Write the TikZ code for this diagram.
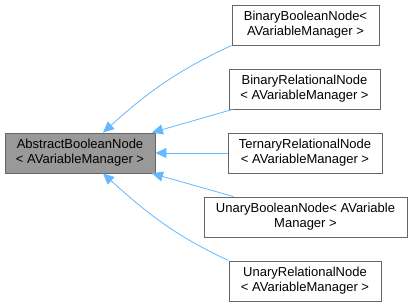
\documentclass[tikz,border=0pt]{standalone}
\usepackage{fontspec}
\setmainfont{Liberation Sans}
\usetikzlibrary{arrows.meta}
\definecolor{edgeblue}{HTML}{63B8FF}
\definecolor{basegray}{HTML}{999999}
\definecolor{framegray}{HTML}{666666}
\tikzset{
  classbox/.style={draw=framegray, fill=white, line width=0.9pt, align=center, minimum height=40pt, inner sep=1pt, font=\fontsize{13}{15}\selectfont},
  basebox/.style={classbox, fill=basegray},
  inherit/.style={draw=edgeblue, line width=0.8pt, -{Triangle[length=11pt, width=10pt, fill=edgeblue]}}
}
\begin{document}
\begin{tikzpicture}[x=1pt, y=1pt]
        \useasboundingbox (0, 0) rectangle (412, -307);

        % Base class
        \node[basebox, minimum width=150pt] (abstract) at (80, -153) {AbstractBooleanNode\\< AVariableManager >};

        % Derived classes
        \node[classbox, minimum width=147pt] (binbool) at (305.5, -25) {BinaryBooleanNode<\\ AVariableManager >};
        \node[classbox, minimum width=151pt] (binrel) at (304.5, -89) {BinaryRelationalNode\\< AVariableManager >};
        \node[classbox, minimum width=154pt] (ternrel) at (305, -153) {TernaryRelationalNode\\< AVariableManager >};
        \node[classbox, minimum width=203pt] (unbool) at (305.5, -217) {UnaryBooleanNode< AVariable\\Manager >};
        \node[classbox, minimum width=152pt] (unrel) at (305, -281) {UnaryRelationalNode\\< AVariableManager >};

        % Inheritance arrows
        \draw[inherit] (binbool.south west) to[out=205, in=42] ([xshift=23pt]abstract.north);
        \draw[inherit] ([xshift=4pt]binrel.south west) -- ([xshift=-3.5pt]abstract.north east);
        \draw[inherit] (ternrel.west) -- (abstract.east);
        \draw[inherit] ([xshift=30pt]unbool.north west) -- ([xshift=-3.5pt]abstract.south east);
        \draw[inherit] (unrel.north west) to[out=155, in=-42] ([xshift=23pt]abstract.south);
    \end{tikzpicture}
\end{document}
